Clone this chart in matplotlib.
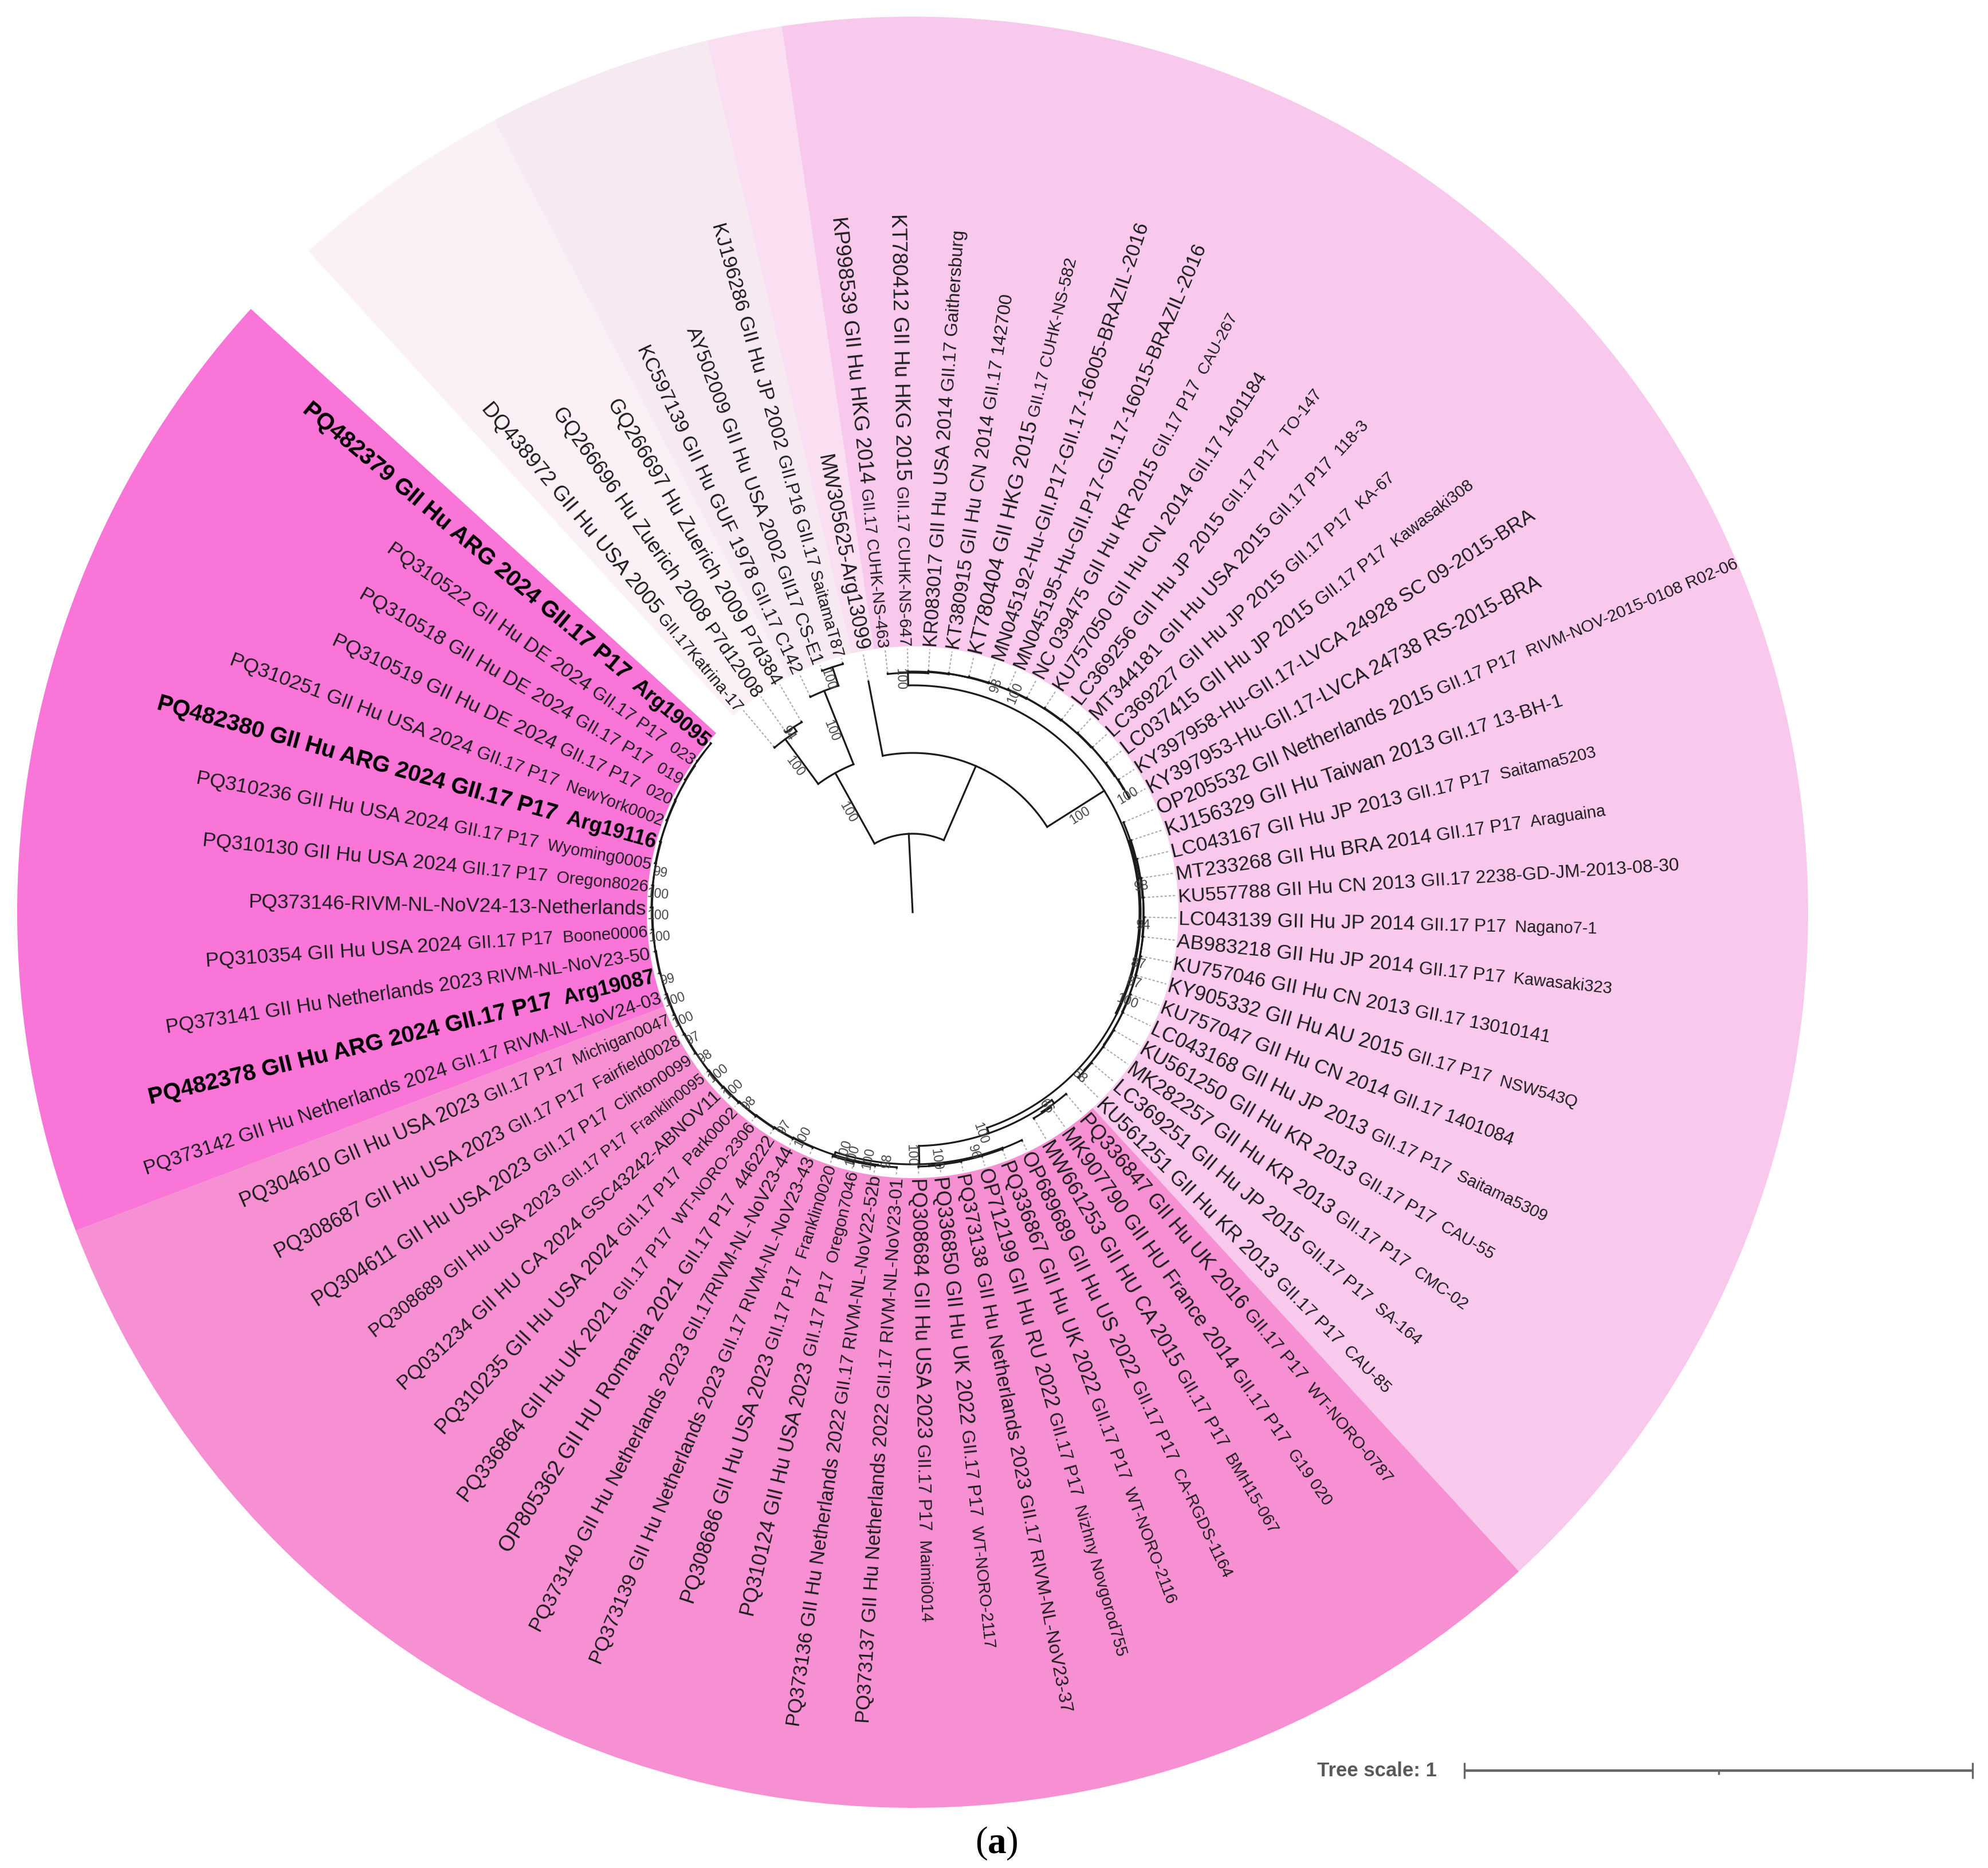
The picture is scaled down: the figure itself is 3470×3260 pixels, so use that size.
import numpy as np
import matplotlib
matplotlib.use("Agg")
import matplotlib.pyplot as plt
from matplotlib.patches import Wedge
from matplotlib.font_manager import FontProperties
from matplotlib.textpath import TextPath

# ---------- taxa, in clockwise order; "|" separates the three text sizes ----------
taxa = [
 "DQ438972 GII Hu USA 2005| GII.17Katrina-17",
 "GQ266696 Hu Zuerich 2008| P7d12008",
 "GQ266697 Hu Zuerich 2009| P7d384",
 "KC597139 GII Hu GUF 1978| GII.17 C142",
 "AY502009 GII Hu USA 2002| GII17 CS-E1",
 "KJ196286 GII Hu JP 2002| GII.P16 GII.17| SaitamaT87",
 "MW305625-Arg13099",
 "KP998539 GII Hu HKG 2014| GII.17 CUHK-NS-463",
 "KT780412 GII Hu HKG 2015| GII.17 CUHK-NS-647",
 "KR083017 GII Hu USA 2014| GII.17 Gaithersburg",
 "KT380915 GII Hu CN 2014| GII.17 142700",
 "KT780404 GII HKG 2015| GII.17 CUHK-NS-582",
 "MN045192-Hu-GII.P17-GII.17-16005-BRAZIL-2016",
 "MN045195-Hu-GII.P17-GII.17-16015-BRAZIL-2016",
 "NC 039475 GII Hu KR 2015| GII.17 P17|  CAU-267",
 "KU757050 GII Hu CN 2014| GII.17 1401184",
 "LC369256 GII Hu JP 2015| GII.17 P17|  TO-147",
 "MT344181 GII Hu USA 2015| GII.17 P17|  118-3",
 "LC369227 GII Hu JP 2015| GII.17 P17|  KA-67",
 "LC037415 GII Hu JP 2015| GII.17 P17|  Kawasaki308",
 "KY397958-Hu-GII.17-LVCA 24928 SC 09-2015-BRA",
 "KY397953-Hu-GII.17-LVCA 24738 RS-2015-BRA",
 "OP205532 GII Netherlands 2015| GII.17 P17|  RIVM-NOV-2015-0108 R02-06",
 "KJ156329 GII Hu Taiwan 2013| GII.17 13-BH-1",
 "LC043167 GII Hu JP 2013| GII.17 P17|  Saitama5203",
 "MT233268 GII Hu BRA 2014| GII.17 P17|  Araguaina",
 "KU557788 GII Hu CN 2013| GII.17 2238-GD-JM-2013-08-30",
 "LC043139 GII Hu JP 2014| GII.17 P17|  Nagano7-1",
 "AB983218 GII Hu JP 2014| GII.17 P17|  Kawasaki323",
 "KU757046 GII Hu CN 2013| GII.17 13010141",
 "KY905332 GII Hu AU 2015| GII.17 P17|  NSW543Q",
 "KU757047 GII Hu CN 2014| GII.17 1401084",
 "LC043168 GII Hu JP 2013| GII.17 P17|  Saitama5309",
 "KU561250 GII Hu KR 2013| GII.17 P17|  CAU-55",
 "MK282257 GII Hu KR 2013| GII.17 P17|  CMC-02",
 "LC369251 GII Hu JP 2015| GII.17 P17|  SA-164",
 "KU561251 GII Hu KR 2013| GII.17 P17|  CAU-85",
 "PQ336847 GII Hu UK 2016| GII.17 P17|  WT-NORO-0787",
 "MK907790 GII HU France 2014| GII.17 P17|  G19 020",
 "MW661253 GII HU CA 2015| GII.17 P17|  BMH15-067",
 "OP689689 GII Hu US 2022| GII.17 P17|  CA-RGDS-1164",
 "PQ336867 GII Hu UK 2022| GII.17 P17|  WT-NORO-2116",
 "OP712199 GII Hu RU 2022| GII.17 P17|  Nizhny Novgorod755",
 "PQ373138 GII Hu Netherlands 2023| GII.17 RIVM-NL-NoV23-37",
 "PQ336850 GII Hu UK 2022| GII.17 P17|  WT-NORO-2117",
 "PQ308684 GII Hu USA 2023| GII.17 P17|  Maimi0014",
 "PQ373137 GII Hu Netherlands 2022| GII.17 RIVM-NL-NoV23-01",
 "PQ373136 GII Hu Netherlands 2022| GII.17 RIVM-NL-NoV22-52b",
 "PQ310124 GII Hu USA 2023| GII.17 P17|  Oregon7046",
 "PQ308686 GII Hu USA 2023| GII.17 P17|  Franklin0020",
 "PQ373139 GII Hu Netherlands 2023| GII.17 RIVM-NL-NoV23-43",
 "PQ373140 GII Hu Netherlands 2023| GII.17RIVM-NL-NoV23-44",
 "OP805362 GII HU Romania 2021| GII.17 P17|  446222",
 "PQ336864 GII Hu UK 2021| GII.17 P17|  WT-NORO-2306",
 "PQ310235 GII Hu USA 2024| GII.17 P17|  Park0002",
 "PQ031234 GII HU CA 2024| GSC43242-ABNOV11",
 "PQ308689 GII Hu USA 2023| GII.17 P17|  Franklin0095",
 "PQ304611 GII Hu USA 2023| GII.17 P17|  Clinton0099",
 "PQ308687 GII Hu USA 2023| GII.17 P17|  Fairfield0028",
 "PQ304610 GII Hu USA 2023| GII.17 P17|  Michigan0047",
 "PQ373142 GII Hu Netherlands 2024| GII.17 RIVM-NL-NoV24-03",
 "PQ482378 GII Hu ARG 2024 GII.17 P17|  Arg19087",
 "PQ373141 GII Hu Netherlands 2023| RIVM-NL-NoV23-50",
 "PQ310354 GII Hu USA 2024| GII.17 P17|  Boone0006",
 "PQ373146-RIVM-NL-NoV24-13-Netherlands",
 "PQ310130 GII Hu USA 2024| GII.17 P17|  Oregon8026",
 "PQ310236 GII Hu USA 2024| GII.17 P17|  Wyoming0005",
 "PQ482380 GII Hu ARG 2024 GII.17 P17|  Arg19116",
 "PQ310251 GII Hu USA 2024| GII.17 P17|  NewYork0002",
 "PQ310519 GII Hu DE 2024| GII.17 P17|  020",
 "PQ310518 GII Hu DE 2024| GII.17 P17|  019",
 "PQ310522 GII Hu DE 2024| GII.17 P17|  023",
 "PQ482379 GII Hu ARG 2024 GII.17 P17|  Arg19095",
]
bold_taxa = [62, 68, 73]
small_tail_taxa = [1, 8, 9, 12]

# distance from the tree centre at which each label ends (px)
label_reach = [1157, 1075, 1036, 1095, 1091, 1250, 813, 1221, 1219, 1194, 1091, 1175,
 1270, 1271, 1184, 1120, 1153, 1164, 1133, 1230, 1288, 1239, 1565, 1193, 1224, 1222,
 1341, 1195, 1228, 1133, 1206, 1122, 1228, 1177, 1186, 1160, 1177, 1295, 1261, 1253,
 1284, 1288, 1348, 1421, 1292, 1239, 1418, 1436, 1261, 1268, 1423, 1416, 1323, 1292,
 1226, 1219, 1197, 1246, 1261, 1277, 1414, 1372, 1319, 1237, 1160, 1246, 1272, 1368,
 1270, 1118, 1113, 1115, 1379]

# clades shaded behind the labels: first taxon, last taxon, colour
clade_first = [1, 4, 7, 8, 38, 61]
clade_last = [3, 6, 7, 37, 60, 73]
clade_colors = ["#FAF0F6", "#F6E9F2", "#FADFF3", "#F8C9EC", "#F78FD3", "#F975D8"]

# ladder clades of the tree: node radii and bootstrap values, one per node
q_radii = [418, 420, 421, 421, 422, 422, 423, 423, 424, 424, 425, 425, 426, 427]
q_support = [100, None, None, None, 98, 100, None, None, None, None, None, None, None, 100]
x_radii = [400, 401, 402, 403, 403, 404, 404, 405, 405, 406, 406, 407, 407, 408]
x_support = [None, None, 98, None, 94, None, 87, 87, 100, None, None, None, None, 58]
ya_radii = [415, 417]
ya_support = [66, None]
yb_radii = [441, 442, 442, 443, 444]
yb_support = [None, 96, None, 100, None]
yc1_radii = [446, 447, 448]
yc1_support = [98, 100, 100]
yc2_radii = [446, 447, 448, 449, 450, 451, 451, 452, 452, 453, 453, 454, 454, 455, 456, 456,
             457, 457, 458, 458, 459, 459]
yc2_support = [100, 97, None, 98, 100, 100, 98, 97, 100, 100, 99, None, 100, 100, 100, 99,
               None, None, None, None, None, None]

scale_ticks = [0, 0.5, 1]
scale_text = "Tree scale: 1"

# ---------- layout ----------
W, H = 3470, 3260
CX, CY = 1593, H - 1592
R_LABEL, R_OUT = 464, 1563
START, STEP = 130.0, 4.86
INK = "#1c1c1c"

fig = plt.figure(figsize=(W / 100, H / 100), dpi=100, facecolor="white")
ax = fig.add_axes([0, 0, 1, 1])
ax.set_xlim(0, W)
ax.set_ylim(0, H)
ax.axis("off")


def theta(i):
    return START - (i - 1) * STEP


def xy(r, a):
    t = np.deg2rad(a)
    return CX + r * np.cos(t), CY + r * np.sin(t)


def reading_rotation(a):
    a = (a + 180) % 360 - 180
    if -90 <= a <= 90:
        return a, False
    return (a - 180 if a > 0 else a + 180), True


for first, last, col in zip(clade_first, clade_last, clade_colors):
    ax.add_patch(Wedge((CX, CY), R_OUT, theta(last) - STEP / 2, theta(first) + STEP / 2,
                       width=R_OUT - R_LABEL, fc=col, ec="none", zorder=1))


# ---------- tree ----------
def node(r, kids, s=None):
    return {"r": r, "kids": kids, "s": s}


def ladder(first, radii, support):
    """Each node joins one taxon with the next node; the last joins two taxa."""
    cur = node(radii[-1], [first + len(radii) - 1, first + len(radii)], support[-1])
    for k in range(len(radii) - 2, -1, -1):
        cur = node(radii[k], [first + k, cur], support[k])
    return cur


def angle(n):
    if isinstance(n, int):
        return theta(n)
    if isinstance(n, tuple):
        return theta(n[0])
    return (angle(n["kids"][0]) + angle(n["kids"][-1])) / 2


def radial(r0, r1, a, lw=2.3):
    x0, y0 = xy(r0, a)
    x1, y1 = xy(r1, a)
    ax.plot([x0, x1], [y0, y1], color=INK, lw=lw, solid_capstyle="projecting", zorder=4)


def support_text(value, r, a):
    rot, _ = reading_rotation(a)
    x, y = xy(r - 10 if r > 435 else r, a)
    t = np.deg2rad(rot)
    x += 14 * np.sin(t)
    y -= 14 * np.cos(t)
    ax.text(x, y, str(value), rotation=rot, rotation_mode="anchor", ha="center", va="center",
            fontsize=16.5, color="#444444", family="Liberation Sans", zorder=5)


def draw(n, parent_r):
    if isinstance(n, (int, tuple)):
        i, tip = n if isinstance(n, tuple) else (n, parent_r + 1)
        a = theta(i)
        radial(parent_r, tip, a)
        x0, y0 = xy(tip, a)
        x1, y1 = xy(R_LABEL - 4, a)
        ax.plot([x0, x1], [y0, y1], color="#ababab", lw=1.5, ls=(0, (2, 1.5)), zorder=3)
        return
    a = angle(n)
    radial(parent_r, n["r"], a)
    if n["s"] is not None:
        support_text(n["s"], (parent_r + n["r"]) / 2, a)
    a0, a1 = angle(n["kids"][0]), angle(n["kids"][-1])
    ts = np.linspace(a0, a1, max(int(abs(a1 - a0)) * 3, 2))
    px, py = xy(n["r"], ts)
    ax.plot(px, py, color=INK, lw=2.3, solid_capstyle="projecting", zorder=4)
    for k in n["kids"]:
        draw(k, n["r"])


q = ladder(8, q_radii, q_support)
x_clade = ladder(23, x_radii, x_support)
ya = ladder(38, ya_radii, ya_support)
yb = ladder(41, yb_radii, yb_support)
yc = node(445, [ladder(47, yc1_radii, yc1_support), ladder(51, yc2_radii, yc2_support)], 100)
y2 = node(440, [yb, yc], 100)
y_clade = node(408, [ya, y2], 100)
r_clade = node(398, [x_clade, y_clade])
p = node(396, [q, r_clade], 100)
b = node(278, [(7, 410), p])
a1_clade = node(375, [1, node(384, [2, 3], 94)], 100)
a2_clade = node(416, [4, node(450, [5, 6], 100)], 100)
a_clade = node(278, [a1_clade, a2_clade], 100)
root = node(137, [a_clade, b])
draw(root, 0)

# ---------- labels ----------
FP = FontProperties(family="Liberation Sans")
FPB = FontProperties(family="Liberation Sans", weight="bold")
SIZE_RATIO = [1.0, 0.89, 0.82]


def em(s, fp):
    """Advance of s, in em, spaces included."""
    w = TextPath((0, 0), "|" + s + "|", size=100, prop=fp).get_extents().width
    w0 = TextPath((0, 0), "||", size=100, prop=fp).get_extents().width
    return (w - w0) / 100


def segment_ratios(i, parts, is_bold):
    if len(parts) == 1:
        return [1.0]
    if is_bold:
        return [1.0, 0.9]
    if len(parts) == 2:
        return [1.0, 0.8 if i in small_tail_taxa else 0.93]
    return SIZE_RATIO


for i, (label, reach) in enumerate(zip(taxa, label_reach), start=1):
    a = theta(i)
    is_bold = i in bold_taxa
    fp = FPB if is_bold else FP
    parts = label.split("|")
    ratios = segment_ratios(i, parts, is_bold)
    natural = sum(em(s, fp) * q_ for s, q_ in zip(parts, ratios))
    length = reach - R_LABEL
    px_size = length / natural
    rot, flipped = reading_rotation(a)
    sx, sy = xy(reach if flipped else R_LABEL, a)
    t = np.deg2rad(rot)
    dx, dy = np.cos(t), np.sin(t)
    nx, ny = -dy, dx
    sx -= nx * 0.35 * px_size
    sy -= ny * 0.35 * px_size
    run = 0.0
    for s, q_ in zip(parts, ratios):
        ax.text(sx + dx * run, sy + dy * run, s, rotation=rot, rotation_mode="anchor",
                ha="left", va="baseline", fontsize=px_size * q_ * 0.72,
                color="black" if is_bold else INK, family="Liberation Sans",
                weight="bold" if is_bold else "normal", zorder=6)
        run += em(s, fp) * q_ * px_size

# ---------- scale bar ----------
BAR_X0, BAR_LEN, BAR_Y = 2556, 887, H - 3090
bar_x = [BAR_X0 + v * BAR_LEN for v in scale_ticks]
ax.plot([bar_x[0], bar_x[-1]], [BAR_Y, BAR_Y], color="#666666", lw=3.2, solid_capstyle="butt", zorder=5)
for v, x_ in zip(scale_ticks, bar_x):
    half = 7 if v == 0.5 else 14
    high = BAR_Y if v == 0.5 else BAR_Y + half
    ax.plot([x_, x_], [BAR_Y - half, high], color="#666666", lw=2.4, solid_capstyle="butt", zorder=5)
ax.text(2508, BAR_Y - 1, scale_text, ha="right", va="center", fontsize=25, weight="bold",
        color="#595959", family="Liberation Sans")

# ---------- panel caption ----------
cap_y = H - 3233
ax.text(1702, cap_y, "(", ha="left", va="baseline", fontsize=47, family="Liberation Serif", color="black")
ax.text(1724, cap_y, "a", ha="left", va="baseline", fontsize=47, family="Liberation Serif",
        weight="bold", color="black")
ax.text(1756, cap_y, ")", ha="left", va="baseline", fontsize=47, family="Liberation Serif", color="black")

fig.savefig("out.png", dpi=100, facecolor="white")
